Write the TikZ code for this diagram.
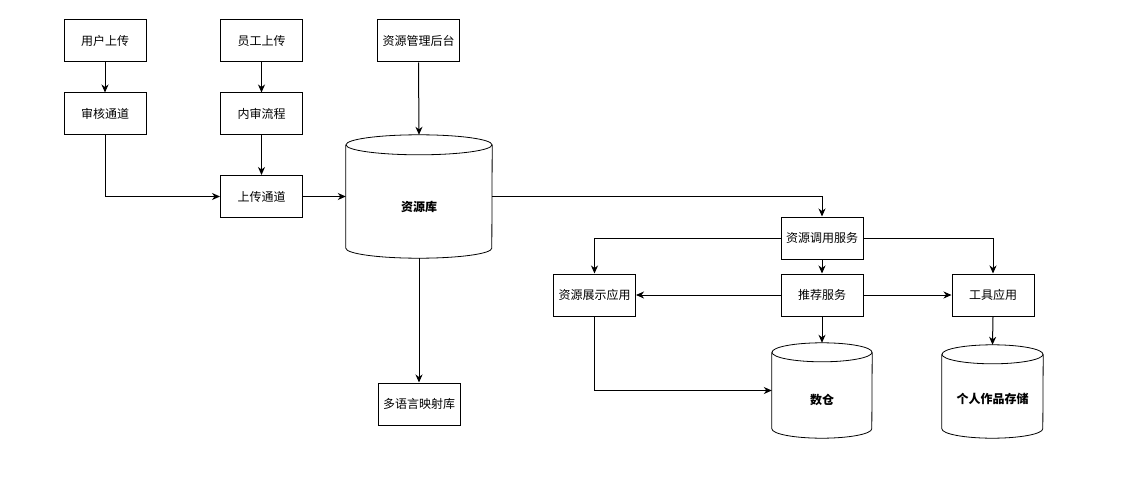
\documentclass[tikz,border=0pt]{standalone}
\usepackage{fontspec}
\newfontfamily\cjk{Noto Sans CJK SC}
\usetikzlibrary{arrows.meta}
\begin{document}
\begin{tikzpicture}[x=1pt,y=1pt,
  box/.style={draw,line width=1pt,minimum width=82pt,minimum height=42pt,inner sep=0pt,font=\cjk\fontsize{12}{14}\selectfont},
  dbshape/.style={draw=none,inner sep=0pt},
  dbtext/.style={font=\cjk\bfseries\fontsize{12}{14}\selectfont,inner sep=0pt},
  conn/.style={line width=1pt,-{Stealth[length=8pt,width=7pt,inset=2.5pt]}},
  cyl/.style={line width=0.8pt}
]
\useasboundingbox (0,0) rectangle (1132,-500);
\node[box] (u1) at (105,-41) {用户上传};
\node[box] (u2) at (105,-114) {审核通道};
\node[box] (e1) at (261.5,-41) {员工上传};
\node[box] (e2) at (261.5,-114) {内审流程};
\node[box] (up) at (261.5,-196.5) {上传通道};
\node[box] (adm) at (418.5,-41) {资源管理后台};
\node[dbshape,minimum width=146pt,minimum height=123pt,
  label={[dbtext,yshift=-10pt]center:资源库}] (db) at (419,-196.5) {};
\node[box] (ml) at (419,-404) {多语言映射库};
\node[box] (call) at (822,-238) {资源调用服务};
\node[box] (rec) at (822,-295) {推荐服务};
\node[box] (show) at (594.5,-295) {资源展示应用};
\node[box] (tool) at (993,-295) {工具应用};
\node[dbshape,minimum width=100pt,minimum height=95pt,
  label={[dbtext,yshift=-9pt]center:数仓}] (dw) at (822,-390.5) {};
\node[dbshape,minimum width=101pt,minimum height=93pt,
  label={[dbtext,yshift=-7pt]center:个人作品存储}] (ps) at (992.5,-391.5) {};
% cylinders
\foreach \n/\rx/\ry in {db/73/10,dw/50/9.5,ps/50.5/9.5}{
  \draw[cyl] ([yshift=-\ry pt]\n.north west) -- ([yshift=\ry pt]\n.south west)
    arc[start angle=180,end angle=360,x radius=\rx,y radius=\ry]
    -- ([yshift=-\ry pt]\n.north east);
  \draw[cyl] ([yshift=-\ry pt]\n.north) ellipse[x radius=\rx,y radius=\ry];
}
% connectors
\draw[conn] (u1) -- (u2);
\draw[conn] (e1) -- (e2);
\draw[conn] (e2) -- (up);
\draw[conn] (u2.south) |- (up.west);
\draw[conn] (up.east) -- (db.west);
\draw[conn] (adm.south) -- (db.north);
\draw[conn] (db.south) -- (ml.north);
\draw[conn] (db.east) -| (call.north);
\draw[conn] (call.west) -| (show.north);
\draw[conn] (call.east) -| (tool.north);
\draw[conn] (call) -- (rec);
\draw[conn] (rec.west) -- (show.east);
\draw[conn] (rec.east) -- (tool.west);
\draw[conn] (rec.south) -- (dw.north);
\draw[conn] (tool.south) -- (ps.north);
\draw[conn] (show.south) |- (dw.west);
\end{tikzpicture}
\end{document}
